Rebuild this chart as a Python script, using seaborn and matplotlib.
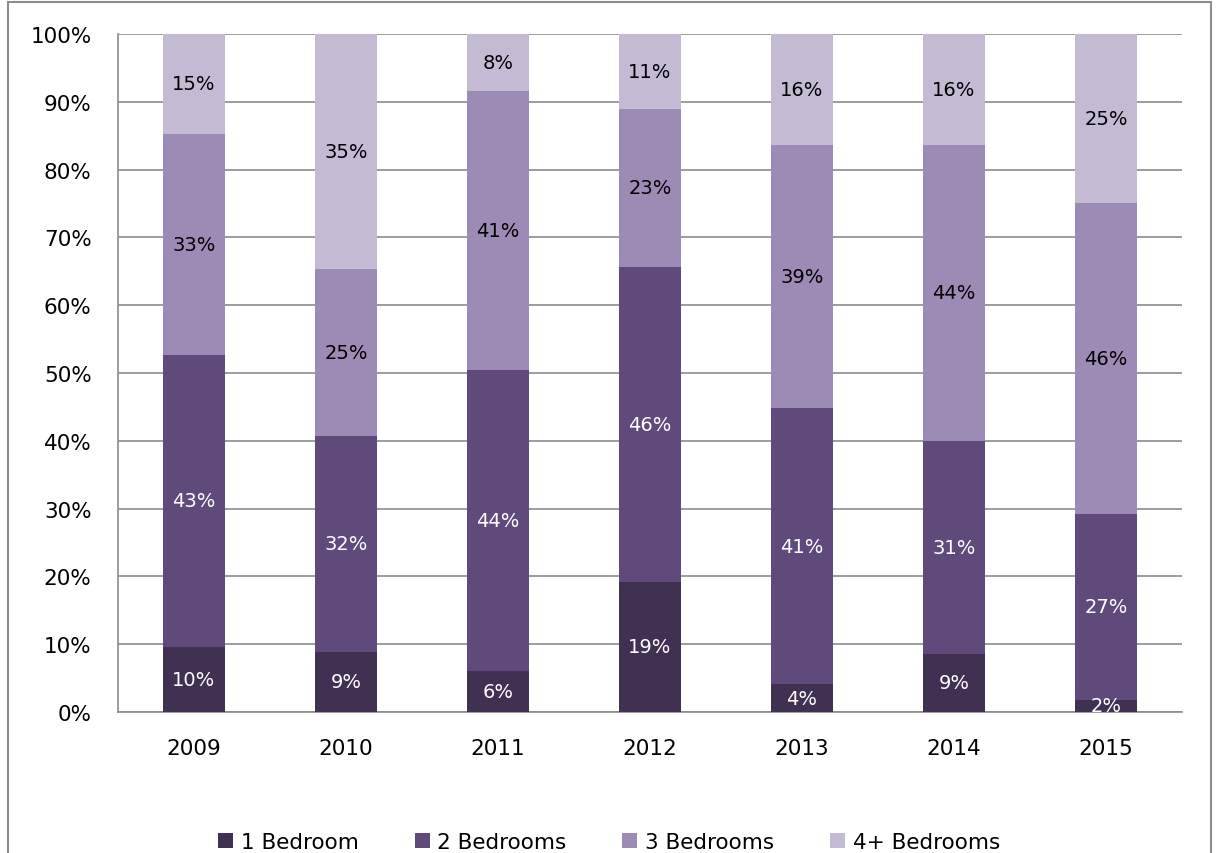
import matplotlib
matplotlib.use("Agg")
import matplotlib.pyplot as plt
from matplotlib.patches import Rectangle, Patch
from matplotlib.ticker import PercentFormatter, MultipleLocator
import seaborn as sns
import numpy as np
import pandas as pd

# values (percent of each year)
years = ["2009", "2010", "2011", "2012", "2013", "2014", "2015"]
one_bed = [9.6, 8.9, 6.0, 19.2, 4.1, 8.6, 1.8]
two_bed = [43.1, 31.8, 44.4, 46.4, 40.7, 31.3, 27.4]
three_bed = [32.6, 24.7, 41.2, 23.4, 38.9, 43.8, 45.9]
four_bed = [14.7, 34.6, 8.4, 11.0, 16.3, 16.3, 24.9]

series_names = ["1 Bedroom", "2 Bedrooms", "3 Bedrooms", "4+ Bedrooms"]
colors = ["#403152", "#604A7B", "#9B8BB5", "#C4BAD4"]
label_colors = ["white", "white", "black", "black"]

sns.set_style("white")
plt.rcParams["font.family"] = ["DejaVu Sans"]
plt.rcParams["text.color"] = "black"
plt.rcParams["xtick.labelcolor"] = "black"
plt.rcParams["ytick.labelcolor"] = "black"

series = [one_bed, two_bed, three_bed, four_bed]
df = pd.DataFrame({"year": years})
cum = np.cumsum(np.array(series), axis=0)
for name, c in zip(series_names, cum):
    df[name] = c

fig = plt.figure(figsize=(12.18, 8.54), dpi=100)
ax = fig.add_axes([118 / 1218, 1 - 713 / 854, (1182 - 118) / 1218, (713 - 35) / 854])

# draw cumulative totals from the top down so each layer covers the next
for name, col in reversed(list(zip(series_names, colors))):
    sns.barplot(data=df, x="year", y=name, color=col, width=0.41,
                saturation=1, ax=ax, zorder=3, linewidth=0)

# segment labels
for i in range(len(years)):
    for k in range(len(series)):
        v = series[k][i]
        mid = cum[k][i] - v / 2
        ax.text(i, mid, f"{v:.0f}%", ha="center", va="center",
                fontsize=14, color=label_colors[k], zorder=4)

ax.set_ylim(0, 100)
ax.set_xlim(-0.5, len(years) - 0.5)
ax.yaxis.set_major_locator(MultipleLocator(10))
ax.yaxis.set_major_formatter(PercentFormatter(decimals=0))
ax.grid(axis="y", color="#8C8C8C", linewidth=1.2, zorder=0)
ax.set_axisbelow(True)
ax.set_xlabel("")
ax.set_ylabel("")

for s in ["top", "right"]:
    ax.spines[s].set_visible(False)
for s in ["left", "bottom"]:
    ax.spines[s].set_color("#8C8C8C")
    ax.spines[s].set_linewidth(1.2)

ax.tick_params(axis="y", length=7, width=1.2, color="#8C8C8C", labelsize=15.5,
               pad=12, labelcolor="black")
ax.tick_params(axis="x", which="major", length=0, labelsize=15.5, pad=19,
               labelcolor="black")
ax.set_xticks(np.arange(-0.5, len(years)), minor=True)
ax.tick_params(axis="x", which="minor", length=7, width=1.2, color="#8C8C8C")

handles = [Patch(facecolor=c, edgecolor="none") for c in colors]
fig.legend(handles, series_names, loc="center", bbox_to_anchor=(0.5, 1 - 843 / 854),
           ncol=4, frameon=False, fontsize=15.5, handlelength=0.7, handleheight=0.7,
           handletextpad=0.35, columnspacing=2.6, labelcolor="black")

# outer chart border
fig.patches.append(Rectangle((8 / 1218, -0.05), 1203 / 1218, 1.05 - 3 / 854,
                             transform=fig.transFigure, fill=False,
                             edgecolor="#8C8C8C", linewidth=1.5))

fig.savefig("out.png", dpi=100)
